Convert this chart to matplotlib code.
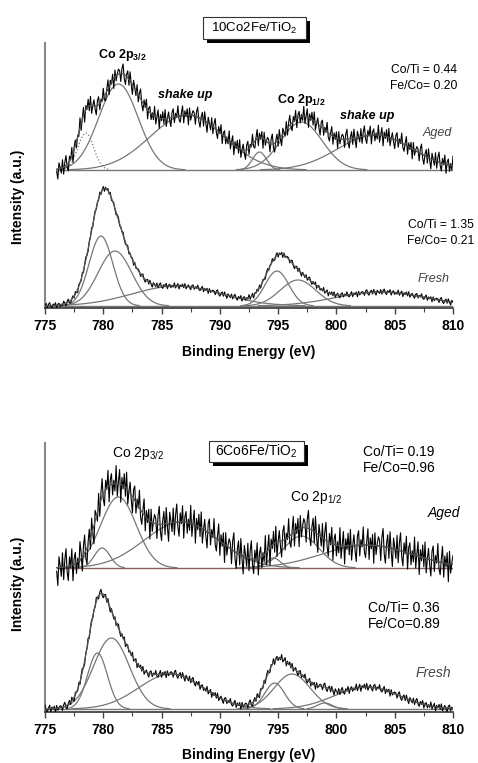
import numpy as np
import matplotlib.pyplot as plt
from matplotlib.patches import Rectangle

plt.rcParams['font.family'] = ['Liberation Sans', 'DejaVu Sans']

W, H = 478, 763

# binding energy grid of the measured spectra (eV)
energy = np.arange(775.0, 810.01, 0.1)

# residual pattern of the measured trace around the fit (relative units)
noise_pattern = [0.3, -0.8, 0.5, 1.0, -0.4, -0.9, 0.2, 0.7, -0.6, 0.9, -0.2, -1.0,
                 0.6, 0.1, -0.5, 0.8, -0.7, 0.4, 1.0, -0.3, -0.8, 0.5, -0.1, 0.9,
                 -0.9, 0.3, 0.6, -0.6, 0.2, -0.4, 1.0, -0.7, 0.1, 0.8, -1.0, 0.4,
                 -0.2, 0.7, -0.5, 0.9, -0.8, 0.0, 0.6, -0.3, -0.9, 0.5, 0.8, -0.6,
                 0.3, -0.1, 1.0, -0.4, -0.7, 0.2, 0.9, -0.8, 0.4, -0.2, 0.6, -1.0,
                 0.7, -0.5, 0.1, 0.5]

# ---- 10Co2Fe/TiO2, aged ----
a10_offset = 138
a10_centers = [778.5, 781.3, 787.2, 793.4, 797.0, 803.3]
a10_heights = [37, 86, 55, 18, 48, 35]
a10_fwhm = [1.6, 4.0, 7.5, 1.4, 4.2, 7.5]
a10_dotted = [True, False, False, False, False, False]
a10_noise = 10
a10_start = 776.0

# ---- 10Co2Fe/TiO2, fresh ----
f10_offset = 2
f10_centers = [779.8, 781.0, 786.3, 794.9, 796.7, 803.8]
f10_heights = [70, 55, 20, 35, 26, 14]
f10_fwhm = [2.4, 3.4, 9.0, 2.4, 3.6, 9.0]
f10_noise = 3
f10_start = 775.0

# ---- 6Co6Fe/TiO2, aged ----
a6_offset = 144
a6_centers = [779.9, 781.3, 786.7, 794.6, 797.0, 802.6]
a6_heights = [20, 71, 46, 10, 32, 23]
a6_fwhm = [1.6, 3.6, 7.5, 1.4, 3.6, 9.0]
a6_noise = 18
a6_start = 776.0

# ---- 6Co6Fe/TiO2, fresh ----
f6_offset = 3
f6_centers = [779.5, 780.7, 785.8, 794.7, 796.2, 799.0, 802.6]
f6_heights = [56, 71, 35, 26, 35, 6, 22]
f6_fwhm = [2.0, 3.6, 6.5, 2.0, 3.6, 1.5, 6.5]
f6_noise = 4
f6_start = 775.0


def gauss(x, c, h, w):
    return h * np.exp(-4 * np.log(2) * ((x - c) / w) ** 2)


def draw_spectrum(ax, offset, centers, heights, fwhm, amp, start, shift,
                  dotted=None, base_color='#777777'):
    comps = [gauss(energy, c, h, w) for c, h, w in zip(centers, heights, fwhm)]
    env = np.sum(comps, axis=0)
    noise = np.roll(np.resize(np.array(noise_pattern), energy.size), shift)
    m = energy >= start
    ax.plot([start, 810], [offset, offset], color=base_color, lw=1.0, zorder=1)
    for i, comp in enumerate(comps):
        ls = ':' if (dotted and dotted[i]) else '-'
        mm = m & (comp > 0.3)
        ax.plot(energy[mm], offset + comp[mm], color='#777777', lw=0.9, ls=ls, zorder=2)
    ax.plot(energy[m], offset + env[m] + amp * noise[m], color='black', lw=0.8, zorder=3)
    ax.plot(energy[m], offset + env[m], color='#555555', lw=0.9, zorder=4)


def setup_axes(rect, ytop, ylab_y, xlab_y):
    ax = fig.add_axes(rect)
    ax.set_xlim(775, 810)
    ax.set_ylim(0, ytop)
    for s in ['top', 'right']:
        ax.spines[s].set_visible(False)
    ax.spines['left'].set_color('#888888')
    ax.spines['left'].set_linewidth(1.5)
    ax.spines['bottom'].set_color('#333333')
    ax.spines['bottom'].set_linewidth(1.2)
    ax.set_yticks([])
    ax.set_xticks(np.arange(775, 811, 5))
    ax.set_xticks(np.arange(775, 811, 2.5), minor=True)
    ax.tick_params(axis='x', which='major', direction='out', length=4, width=1,
                   color='#444444', labelsize=10, pad=4)
    ax.tick_params(axis='x', which='minor', direction='out', length=3, width=0.8,
                   color='#444444')
    for lab in ax.get_xticklabels():
        lab.set_fontweight('bold')
    ax.set_xlabel('Binding Energy (eV)', fontsize=10, fontweight='bold')
    ax.set_ylabel('Intensity (a.u.)', fontsize=10, fontweight='bold')
    ax.xaxis.set_label_coords(0.5, xlab_y)
    ax.yaxis.set_label_coords(-0.066, ylab_y)
    ax.xaxis.label.set_va('center')
    ax.yaxis.label.set_va('center')
    ax.patch.set_alpha(0)
    return ax


def ftext(x, y, s, **kw):
    fig.text(x / W, 1 - y / H, s, **kw)


def title_box(x0, y0, x1, y1, s, fs, shadow=4):
    fig.add_artist(Rectangle(((x0 + shadow) / W, 1 - (y1 + shadow) / H),
                             (x1 - x0) / W, (y1 - y0) / H, transform=fig.transFigure,
                             facecolor='black', edgecolor='black', lw=0))
    fig.add_artist(Rectangle((x0 / W, 1 - y1 / H), (x1 - x0) / W, (y1 - y0) / H,
                             transform=fig.transFigure, facecolor='white',
                             edgecolor='#333333', lw=0.8))
    ftext((x0 + x1) / 2, (y0 + y1) / 2, s, ha='center', va='center', fontsize=fs)


fig = plt.figure(figsize=(W / 100, H / 100), dpi=100)

ax1 = setup_axes([45 / W, 1 - 308 / H, 408 / W, 265 / H], 265, 0.42, -0.166)
draw_spectrum(ax1, a10_offset, a10_centers, a10_heights, a10_fwhm, a10_noise,
              a10_start, 0, dotted=a10_dotted)
draw_spectrum(ax1, f10_offset, f10_centers, f10_heights, f10_fwhm, f10_noise,
              f10_start, 17)

ax2 = setup_axes([45 / W, 1 - 712 / H, 408 / W, 269 / H], 269, 0.476, -0.16)
draw_spectrum(ax2, a6_offset, a6_centers, a6_heights, a6_fwhm, a6_noise,
              a6_start, 31, base_color='#8a6060')
draw_spectrum(ax2, f6_offset, f6_centers, f6_heights, f6_fwhm, f6_noise,
              f6_start, 45)

title_box(203, 17, 306, 39, r'10Co2Fe/TiO$_\mathregular{2}$', 9.5)
title_box(209, 441, 304, 462, r'6Co6Fe/TiO$_\mathregular{2}$', 10)

# top panel annotations
ftext(98, 55, r'Co 2p$_\mathregular{3/2}$', fontsize=9, fontweight='bold', va='center')
ftext(158, 95, 'shake up', fontsize=9, fontweight='bold', style='italic', va='center')
ftext(277, 100, r'Co 2p$_\mathregular{1/2}$', fontsize=9, fontweight='bold', va='center')
ftext(340, 116, 'shake up', fontsize=9, fontweight='bold', style='italic', va='center')
ftext(452, 133, 'Aged', fontsize=9, style='italic', color='#444444', ha='right', va='center')
ftext(457, 70, 'Co/Ti = 0.44', fontsize=8.7, ha='right', va='center')
ftext(457, 86, 'Fe/Co= 0.20', fontsize=8.7, ha='right', va='center')
ftext(474, 225, 'Co/Ti = 1.35', fontsize=8.7, ha='right', va='center')
ftext(474, 241, 'Fe/Co= 0.21', fontsize=8.7, ha='right', va='center')
ftext(450, 279, 'Fresh', fontsize=9, style='italic', color='#444444', ha='right', va='center')

# bottom panel annotations
ftext(112, 454, r'Co 2p$_\mathregular{3/2}$', fontsize=10, va='center')
ftext(290, 498, r'Co 2p$_\mathregular{1/2}$', fontsize=10, va='center')
ftext(363, 452, 'Co/Ti= 0.19', fontsize=10, va='center')
ftext(363, 468, 'Fe/Co=0.96', fontsize=10, va='center')
ftext(460, 513, 'Aged', fontsize=10, style='italic', ha='right', va='center')
ftext(368, 608, 'Co/Ti= 0.36', fontsize=10, va='center')
ftext(368, 624, 'Fe/Co=0.89', fontsize=10, va='center')
ftext(451, 673, 'Fresh', fontsize=10, style='italic', color='#444444', ha='right', va='center')

fig.savefig('out.png', dpi=100)
